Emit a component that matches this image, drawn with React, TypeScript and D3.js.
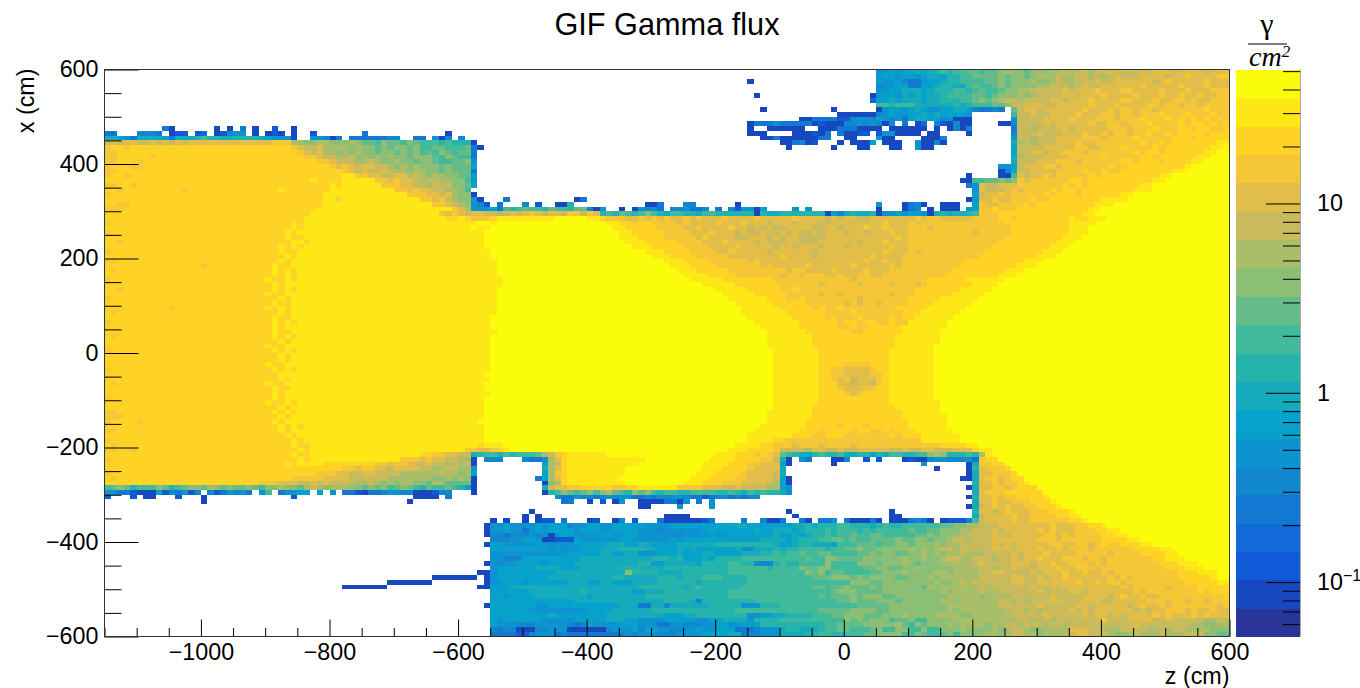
import React, { useEffect, useRef } from 'react';
import * as d3 from 'd3';

// kBird palette, 20 contours, bottom of the colour bar first
const palette = [
  '#2a3598', '#1848c0', '#105ad8', '#1269d8', '#1278d2', '#1188ce', '#0d93d0', '#07a2cb', '#15abbc', '#26b3ac',
  '#41b99b', '#66bc88', '#8bbf75', '#aabd69', '#c9bb5c', '#e1bd4a', '#f5c636', '#ffd326', '#fee717', '#fbfc0c',
];
const levelCodes = 'abcdefghijklmnopqrst';
const zRange = [-1150, 600];
const xRange = [-600, 600];
const zBins = 175;
const zTicks = [-1000, -800, -600, -400, -200, 0, 200, 400, 600];
const xTicks = [-600, -400, -200, 0, 200, 400, 600];
const fluxRange = [0.0516, 51];
const fluxLabels = [{ v: 10, base: '10', exp: '' }, { v: 1, base: '1', exp: '' }, { v: 0.1, base: '10', exp: '\u22121' }];
const fluxMinor = [0.06, 0.07, 0.08, 0.09, 0.2, 0.3, 0.4, 0.5, 0.6, 0.7, 0.8, 0.9, 2, 3, 4, 5, 6, 7, 8, 9, 20, 30, 40, 50];

// one string per x bin, top row first. "col:levels", last level runs on to the next token
const fluxRows = [
  '120:gghghhih 128:ijkjkkll 136:kllmnmmlmnm 147:nnonoonoopoo 160:opopppoppppopp',
  '120:ghhghhgh 128:iihjjkkl 136:lllmlmmlmnn 147:nonnoononopo 160:oppppoppqppppq',
  '100:b. 120:hgghfeeg 128:hhijjkkk 136:kllmlmmmnmm 147:nonnooopoopp 160:pppopqpppppqpp',
  '120:fgghheeh 128:hijjiikl 136:kklmlmmmmnn 147:ooonopoopppp 160:pqpppppqpppqpp',
  '120:gghhiiih 128:ijjjkkjk 136:lkklmmnnooo 147:oopopppqpppq 160:ppppqpppqpppqq',
  '101:b. 119:bghhgihih 128:iijkkkkl 136:lklmmmnmnoo 147:ooppopppqppp 160:qpppqppqppqppq',
  '119:dhhihiiih 128:iijjjkkl 136:mlmnoonoooo 147:ppopppqppppq 160:pppqppqqpqppqq',
  '120:kkjkkkii 128:iiiijijk 136:kkllmoooppo 147:opppppqpppqp 160:ppqqpqqpqqpqqq',
  '102:b. 113:b. 120:bghhghihgghhiih 135:feefe 140:. 141:l 142:oppopppp 150:ppqpppqp 158:qqpqqpqq 166:qqqqqrqqq',
  '114:bbbbbb 120:fghgghhihihhhhg 135:. 141:k 142:oopooppp 150:pqpppqqp 158:qqpqqqrq 166:qqrqqqrqq',
  '108:bbeeeeccfgg 119:fhgfgehiihhfgbb 134:b 135:. 141:g 142:oooopppp 150:qpppqqqp 158:qqqrqqqr 166:qrqrqrqrq',
  '100:beeegeeeeebcbbbf 116:fgfgfb 122:f. 124:e. 126:bc. 127:d 128:. 129:f 130:cb 132:fb 134:b 135:. 139:bb 141:f 142:oooopo 148:pppppq 154:ppqqpq 160:qqrqqq 166:qrqrrqrqr',
  '9:eb. 17:b. 19:b. 21:e. 23:b. 26:c. 29:b. 100:b. 103:bbbbb 108:b. 111:bbbeeebbb 120:b. 122:bbbbbb 128:. 129:b 130:. 131:b 132:fb 134:f. 141:e 142:oonooo 148:ppoppp 154:ppqqqp 160:qqqrqq 166:qrrqrrqqr',
  '0:ee. 5:fffe. 10:bcc. 14:cd. 17:bcfgg. 23:b. 25:bcb. 29:b. 32:c. 40:e. 53:b. 100:bbb. 107:bbbcbe 113:. 114:ebbcc 119:. 120:c 121:gg 123:bbbb 127:. 128:bb 130:. 134:b. 141:f 142:ooopoo 148:opppqp 154:pqpqqp 160:qqrqqr 166:qrrrrqrrr',
  '0:iihgeiiiiheiiijkjjiijjjjihgggb 30:. 32:ggfbe. 38:eeeeeeff. 48:ee. 51:gbf. 55:f. 102:bbeb 106:bb. 108:bbbee 113:. 115:bb 117:. 119:. 120:g 121:bb 123:. 126:. 127:bb. 129:bf. 141:g 142:oonooo 148:ppppqq 154:qpqqqq 160:rqqqqq 166:rrrqrrrrr',
  '0:opoppoopopopopppppppppppppqqq 29:nnmmnnmmmnml 41:lkmllkmlkkkjkjjjk 57:b. 105:bbef 109:bc 111:. 114:b. 116:bb 118:bh 120:. 121:bbb 124:. 126:gbb 129:fb. 141:i 142:nonooo 148:pppqpp 154:qqqqqq 160:qrqqrq 166:rrrrrrrss',
  '0:qrrq 4:r 29:qpoopnnn 37:nmnmmlmlmmlmkkllkkkl 57:e 58:b. 106:b. 113:b. 117:bb. 122:bb. 126:gbb. 141:h 142:oooopp 148:pppqqp 154:pqqqrq 160:qqqrqr 166:rrrrrrsst',
  '0:qqrr 4:r 30:qpopnn 36:mnmnmmlmmlmlmklkmlkll 57:e. 141:h 142:ooppop 148:pqqqpq 154:qqqqqq 160:rqrrqr 166:rrrrrsstt',
  '0:qqrrrrrq 8:r 31:qqpoon 37:nomnmnmnmmlmmmlkmlkk 57:e. 141:i 142:nooopp 148:ppqqqq 154:qrqqqq 160:qrrqrr 166:rrrrsstt',
  '0:qqr 5:q 6:r 33:qqpooo 39:nnonmmnmmlmmlkkllm 57:g. 141:i 142:oooppp 148:qqqpqq 154:qqqqrr 160:qrrrqr 166:rrrsstt',
  '0:qrrrqq 6:r 35:qpqpopp 42:oonmnmnmmmlmlll 57:h. 139:g 140:gh 142:opppqq 148:pqqqqq 154:qqrqqr 160:rrrrrr 166:rrsttt',
  '0:qq 2:r 37:qpopoop 44:onnmnnmmlmlll 57:e. 139:bf 141:i 142:oopppp 148:qqqqrq 154:qrqqrr 160:rrrrrr 166:ssttt',
  '0:qrrq 4:r 37:ss 39:qqppoopp 47:nonmnnmmll 57:h. 134:b 135:. 139:bb 141:k 142:poppqp 148:qqqqqr 154:qrrrrr 160:rrrrss 166:ttttt',
  '0:r 32:s 33:r 37:sssss 42:qqpqppo 49:noonnmmk 57:g. 133:bb 135:kkllm 140:lm 142:qpqqqq 148:qqrrqr 154:rrrrrr 160:rrrss 165:t',
  '0:qqr 4:q 5:r 35:s 36:r 37:ssssss 43:qqqppoo 50:nooomml 57:h. 134:eg 136:poopp 141:pqqqqq 147:qqrqrq 153:rrrrrr 159:rrsst 164:t',
  '0:rrq 3:r 12:q 13:r 27:s 28:r 35:ss 37:ssssssss 45:qqpqpp 51:oonnmk 57:. 135:g 136:pooop 141:qpqqqq 147:rqrrqr 153:rrrrrr 159:rss 163:t',
  '0:qr 34:sssssssssssss 47:qqqpp 52:opnmm 57:b. 135:h 136:oppqp 141:qqqqqr 147:qrrrqr 153:rrrrrs 158:sst',
  '0:r 34:ssrssssssssssss 49:qqpqo 54:nmm 57:g 58:b. 62:e. 73:be. 134:bg 136:ppqpp 141:qqqrqq 147:rrrrrr 153:rrss 157:sst',
  '0:rrqq 4:r 33:rssssssssssssssss 51:qqpo 55:nm 57:gfc. 61:e. 65:f. 67:c. 70:bbj. 84:bbe. 90:ff. 98:b. 120:g. 124:bef 127:b. 130:bbb. 135:h 136:qppq 141:qqrqrr 147:rrrrrr 153:rss 156:st',
  '0:qq 3:r 33:s 54:qpn 57:ggghe 62:kjklkkjlkkjll 75:fbg. 80:b. 82:bgfge. 88:ffgeef. 95:e. 97:fcggbh. 107:g. 109:g. 120:b. 124:bef. 128:b. 130:bbb. 134:gh 136:qqrq 141:qrrrrr 147:rrrrrr 153:ss 155:t',
  '0:r 32:s 52:qpqpo 57:ppoonopopqpoppoqqoqpq 77:jkjlkjkmkjikkjjikkjjjjjj 101:b 102:jiijjjjjjj 112:b 113:hfijiij 120:bgghghhgb 129:ijijijk 136:qqqr 141:rrrrrr 147:rrrrr 152:sst',
  '0:r 31:s 53:rrsrqq 59:qrs 62:sssssss 70:tttttt 75:ss 77:r 78:qq 80:qppqpqpqppqpqpp 95:pqppppqpppppqp 109:pppopoppoopppp 123:pppqpqqpppppq 136:qqqrrq 142:rrrrr 147:rrrsrr 153:ssst 156:t',
  '0:qr 28:rsr 31:s 57:st 60:st 62:t 78:ss 80:rrqrr 85:qqqq 89:pqppppqpppqpppopppopppoopppoppppqpp 125:qpqqqqqqqqqqqqq 140:rrrrrrrrrr 150:sss 154:t',
  '0:r 29:srs 32:s 56:sts 60:t 79:ss 81:rrrrr 86:qqqq 90:ppqppppqppopopooppppooppopppqppqppp 125:qqqpqqqqqqqqqqqq 141:rrrrrrrrr 150:sss 153:t',
  '0:qr 27:rsrs 31:s 58:st 60:t 80:ss 82:rrrrr 87:qqqq 91:pppqpppopoopoopopoopopppoppopppqpp 125:qqqqqqqqqqpqqqqq 141:rrrrrrrrr 150:sss 153:t',
  '0:r 28:srrs 32:s 59:t 80:sss 83:rrrr 87:qqqqq 92:pqppppoopppopoppoooopppppppppppqp 125:qqqqqqqqqqqqqqq 140:rrrrrrrrr 149:sss 152:t',
  '0:rrq 3:r 27:rrss 31:rs 33:s 59:t 81:sss 84:rrrrr 89:qqqq 93:pppqppppopoooppoooppppppopppqppp 125:qqqqqqqqqqqqqq 139:rrrrrrrrr 148:sss 151:t',
  '0:r 27:srsr 31:s 58:st 60:t 82:sss 85:rrrrr 90:qqqq 94:ppppqpppppoppopppopppoppppppqpp 125:qqqqqqqqqqqqq 138:rrrrrrrrr 147:sss 150:t',
  '0:qr 26:rsrrs 31:s 59:st 61:t 84:sss 87:rrrr 91:qqqq 95:ppqpppppoppppppoppppppppppqpp 125:qpqqqqqqqqqq 137:rrrrrrrrr 146:sss 149:t',
  '0:r 27:rsrs 31:s 60:t 85:sss 88:rrrr 92:qqqq 96:qppppppppqppppoppppppppqpppp 124:qqqqqqqqqqqq 136:rrrrrrrrr 145:sss 148:t',
  '0:qqr 3:r 25:rrsr 29:s 60:st 62:t 87:sss 90:rrrr 94:qqqq 98:qqpqppppppppppppppppqppqpp 124:qqqqqqqqqq 134:rrrrrrrrr 143:sss 146:t',
  '0:r 15:q 16:r 26:srrs 30:s 61:t 88:sss 91:rrrr 95:qqqq 99:qqqpqpppppqppppppqpppppqp 124:qqqqqqqqq 133:rrrrrrrrr 142:sss 145:t',
  '0:rq 2:r 25:rsrsr 30:s 60:st 62:t 89:sss 92:rrrrr 97:qqqq 101:qqqqqpqqppppqppppqpppqpp 123:qqqqqqqqq 132:rrrrrrrr 140:sss 143:t',
  '0:r 26:srsr 30:s 61:t 90:ssss 94:rrrr 98:qqqqq 103:qqpqqpqqqppqppqqppqq 123:qqqqqqqq 131:rrrrrrrr 139:sss 142:t',
  '0:qr 24:rsrrs 29:rs 31:s 61:st 63:t 91:sssss 96:rrrrrrrr 104:qqqqqqqqqqqqpqqqqqqqqqqq 128:rrrrrr 134:ssssss 140:t',
  '0:r 25:rsrs 29:s 62:t 93:sssss 98:rrrrrrr 105:qqqqqqpqqqqqpqqqqpqqqpq 127:qrrrrrrr 135:ssss 139:t',
  '0:rrq 3:r 26:srsr 30:s 60:st 63:t 95:sssss 100:rrrrr 105:qqrqqqqqqqqqqqqqqqqqqqq 126:rrrrrrr 133:sssss 138:t',
  '0:r 24:rsrrs 29:s 61:t 96:sssss 101:rrrr 105:rqqqqqpqqpqqqqqqqpqqqq 126:rrrrrr 132:sssss 137:t',
  '0:qr 25:rrsr 29:s 60:st 62:t 97:ssssss 103:rrr 106:qqrqqqqqqqqpqqqqqqq 125:rrrrr 130:ssssss 136:t',
  '0:r 26:srr 29:s 61:t 98:ssssss 104:rrr 107:rrqqqqqqpqpqqpqqqq 125:rrrr 129:ssssss 135:t',
  '0:r 10:q 11:r 24:rsrs 28:rs 30:s 61:t 99:ssssss 105:rrr 108:rrqrqqrqqqqqqqqrqq 124:rrrr 128:ssssss 134:t',
  '0:rq 2:r 26:rsr 29:s 60:st 62:t 99:sssssss 106:rrr 109:rrrqqqqrqqqqqqqrq 124:rrr 127:ssssss 133:t',
  '0:r 25:rsrrs 30:s 60:t 100:sssssss 107:rrr 110:rrqrqqqrqqqqrqqq 124:rr 126:ssssss 132:t',
  '0:qr 26:srsr 30:s 60:t 101:sssssss 108:rrr 111:rrrqrrqrrqqrqq 125:ssssss 131:t',
  '0:r 24:rrsr 28:s 60:t 102:ssssss 108:rrrrr 113:rqqrqqr 120:rrrr 124:sssssss 131:t',
  '0:r 26:srr 29:s 61:t 103:ssssss 109:r 113:rrrqqrr 124:ssssss 130:t',
  '0:rq 2:r 25:rsrsr 30:s 60:t 103:sssssss 110:r 123:sssssss 130:t',
  '0:r 26:rsrs 30:s 59:st 61:t 103:sssssss 110:r 123:sssssss 130:t',
  '0:r 24:rsrr 28:s 60:t 103:sssssss 110:r 123:ssssss 129:t',
  '0:qr 26:srs 29:rs 31:s 60:t 104:sssssss 111:r 122:sssssss 129:t',
  '0:r 25:rrsr 29:s 59:st 61:t 104:sssssss 111:r 122:sssssss 129:t',
  '0:r 26:rsr 29:s 60:t 104:sssssss 111:r 122:sssssss 129:t',
  '0:r 24:rsrrs 29:s 60:t 104:sssssss 111:rrrr 115:qqqq 119:rrr 122:sssssss 129:t',
  '0:qr 26:srsr 30:s 59:st 61:t 104:sssssss 111:rr 113:qqpppp 119:qrr 122:sssssss 129:t',
  '0:r 25:rrs 28:s 59:t 104:sssssss 111:rr 113:qqpppp 119:qqr 122:sssssss 129:t',
  '0:r 26:rsrs 30:s 60:t 104:sssssss 111:rr 113:qpqopppq 121:r 122:sssssss 129:t',
  '0:rq 2:r 24:rsr 27:rs 29:s 58:st 60:t 104:sssssss 111:rrr 114:ppoppoq 121:r 122:sssssss 129:t',
  '0:r 26:srrs 30:s 59:t 104:sssssss 111:rrr 114:qpppqq 120:rr 122:sssssss 129:t',
  '0:r 25:rsr 28:s 59:st 61:t 104:sssssss 111:rrrr 115:qpq 118:rrrr 122:sssssss 129:t',
  '0:qr 26:srs 29:s 59:t 104:sssssss 111:r 122:sssssss 129:t',
  '0:r 24:rsrrs 29:rs 31:s 59:t 104:sssssss 111:r 122:sssssss 130:t',
  '0:r 26:rsr 29:s 58:st 60:t 104:ssssss 110:r 123:sssssss 130:t',
  '0:qqr 26:srsr 30:s 59:t 103:sssssss 110:r 124:ssssss 130:t',
  '0:qqqr 25:rrs 28:rs 30:s 59:t 103:sssssss 110:r 124:sssssss 131:t',
  '0:qr 5:q 6:r 26:srs 29:s 58:t 103:ssssss 109:r 125:ssssss 131:t',
  '0:r 27:srsr 31:s 59:t 102:sssssss 109:rrrrr 114:qrrr 118:qrr 125:ssssss 131:t',
  '0:qqr 26:rsrs 30:s 59:t 101:sssssss 108:rrr 111:qrrrrqrrqqrqrrr 126:ssssss 132:t',
  '0:r 28:srs 31:s 58:st 60:t 100:sssssss 107:rrrqqrrrqqqqqqqrqrrr 127:ssssss 133:t',
  '0:qr 28:rsrs 32:s 59:t 100:ssss 104:rrqqqqqqqqqqqqqqqqqqqqqqrrr 127:ssssss 133:t',
  '0:rq 2:r 29:srr 32:s 58:rssst 62:t 98:ssss 102:rrqqqpqqqpqqqqpqqqqqqqqqqqqq 130:rrrr 134:sst',
  '0:qqr 4:q 5:r 29:rsrs 33:s 56:qqppq 61:rs 63:t 97:sss 100:rrrr 104:qoooonppoopoopppppoopooppooop 135:rs 137:st',
  '0:r 29:srrs 33:s 49:rrqqppoon 57:ijkkjkjkkkl 68:noqrs 73:ssssst 78:t 95:sss 98:rrrq 102:rq 104:pn 105:lkjiijkjjkiijjhjikkjjkkmnmjjjkjn 137:ss 138:t',
  '0:qr 30:srs 33:s 46:qqqpqppoonnm 57:b. 59:fff. 65:fee 68:g 69:nprsss 74:ss 84:t 94:ssss 98:rrrr 102:qqo 105:i 106:b 107:.g. 109:e. 113:bb. 115:f. 118:c. 120:c. 124:bc 126:bb 128:fg 130:gfffge 136:qrr 139:t',
  '0:r 28:srs 31:s 34:r 42:qqpqqpoopoononoon 57:b. 68:h 69:norsss 74:s 83:t 93:ssss 97:rrr 100:qqppp 105:h 106:b. 113:b. 127:g. 134:b 135:i 136:qqr 139:r 140:t',
  '0:r 34:rr 37:qqpqqppoppppoonnoonnnm 57:g. 68:i 69:nprs 74:s 81:t 93:sss 96:rrrr 100:qppp 105:i. 129:b. 134:b 135:j 136:pqqqr 141:t',
  '0:qr 33:qqqppooppoooonnnnnnonnmnl 57:h. 68:h 69:nqrs 74:s 81:t 92:sss 95:rrrr 99:qpppp 104:o 105:i. 134:b 135:i 136:ppqqqr 142:t',
  '0:rq 2:r 29:qqqqqppppoooooonnnnnnnmmnmnml 57:b. 67:eh 69:nprs 74:s 80:t 91:sss 94:rrrr 98:qqpppp 104:o 105:h 106:b. 133:bb 135:i 136:pqqpqrr 143:t',
  '0:r 24:qqqpppoopopoooonnonmnmnnmmlnnll 57:b. 68:b 69:mnrs 74:s 81:t 90:sss 93:rrr 96:qqqpppp 103:on 105:h 106:b. 135:j 136:ppqpqqr 143:s 144:t',
  '0:klmljkkkmljklmmlnmlmllmlkmmnmmlnonmnnnmmlmlmklmlkjlkklkjh 57:b 58:. 68:i 69:oppqqrrrrrqqrrs 84:sssss 89:qqqqpppoopoooonn 105:h 106:g. 134:b 135:i 136:ppqqpqr 145:t',
  '0:ggeecbbbhcfegcf. 16:fcegfge. 24:gk. 27:egghh 32:. 33:h. 35:g. 37:eecbeefggffbbb. 49:bb 51:cff 54:. 57:b. 68:b 69:jkmlklmkmnlkjmlmkjkkjjkk 93:kkjjkjik 101:jk 103:j 105:i 106:g. 135:i 136:pqqqr 146:t',
  '0:c. 4:c. 6:bb. 11:c. 15:b. 29:c. 48:bbbb. 53:e. 70:feegffefgfggeefegfggfeecef 96:gefef 101:g 102:. 107:. 134:b 135:j 136:ppqpqqr 146:st 148:t',
  '15:b. 47:b. 71:ee. 75:b. 77:c. 79:bg. 83:bbbbee 89:bg. 92:e. 94:g. 135:i 136:ppqppqqqr 147:st 149:t',
  '83:bb. 89:g. 94:g. 134:b 135:i 136:opqpqppqqrr 147:rst 150:t',
  '66:b. 106:b. 122:b 123:. 135:j 136:ppopqpppqqqr 148:rrs 151:t',
  '65:b. 67:b. 87:bbbb. 107:b. 122:bb. 135:i 136:oppppqppqqq 147:qrrs 152:t',
  '60:b. 62:b. 65:b. 67:bcc. 71:e. 75:bc. 79:bf. 82:c. 86:eb 88:bb. 90:bbbce. 99:e. 102:fbbe. 108:eb. 111:eeg. 115:ebb. 118:beb. 122:bbb 125:efe 128:b 129:. 130:bcccfff 135:k 136:oppppqppqq 148:qqrrs 153:t',
  '59:b 60:gghgggghghhhfgg 75:hhgghhhhhgggghh 90:hhhhhhhhiihhhhh 105:hhiijijjjkkjjji 120:jkjjkkkkkkllmmn 135:noooppppppppqpp 150:pqqrrst 157:t',
  '59:b 60:gghggeghghhhhgh 75:hhgghhhhgggfggg 90:ggghhhhhhhhihhi 105:iihijjjkjkkkjkj 120:kkkkklkkllmmmnn 135:ooopopppppqpqpp 150:pqqqrrs 157:st',
  '59:b 60:ffefffgfgbghhgg 75:gghhgghhgggggff 90:gggghgghhhhhhhi 105:hhihijjkjkklkkl 120:lkkkkkllmlmmnno 135:ooopoopppppqqpq 150:pqqqqrrsst 160:t',
  '60:fffgghhgbbccchg 75:ggggghhgggggghg 90:hhhhhhhhhhhhiii 105:ihijjjkkllklkkl 120:lllmllmmlmmnoon 135:ooopppppppqqqpq 150:qqqqqrrrrsst 162:t',
  '59:b 60:hhggggghggggghh 75:hhhiiihhiihhhhi 90:iiiiijjjjjjjjji 105:hhijjiiihkkklll 120:kllmmlmmmnmnnoo 135:ooopopopppppqqp 150:pqqpqrqqrrrss 163:t',
  '60:hhhhhhhhhghgggh 75:hhiiijjjjiihhhi 90:hihhhhhhiggiiij 105:ijjkkkkjkkllmll 120:mmmmmnmnmnoonoo 135:ooopppopppqppqp 150:qqqpqqqqqqrrrrs 165:s 166:t',
  '60:gggggggggggghhh 75:hhiihhiiggghhhi 90:hhhiihhhhiiijjk 105:jkklkkllkkkkllm 120:lmmllmmnmnmnnon 135:nnoooopopppqppp 150:pqqqqqpqqqqrrrrs 166:st',
  '60:ggfffhhhhhhhhhi 75:iiiiiiiiiijjjij 90:hhhihjjjjkkkkkk 105:kkkklkkmmllllmm 120:mmmmnmmnmmnoonn 135:ooonoopoppqpppq 150:qqpqqpqqqqqqqrrs 166:s 167:st',
  '59:b 60:gfgghhhhghhhhii 75:iiiiiiiijjhhiii 90:iihjjjjkkjjfffj 105:kjjkkkkmkkkkmmm 120:lmmmnmlmmmnnnnn 135:opoooopppoppqpp 150:qqqpqpqqqqqqqqrrrs 168:sst',
  '60:ghhhhhhiiiihhhi 75:iiiiijjjjijijjj 90:jjjjjjjkkkkkkjk 105:kkkmllmmkkkkkll 120:mmllmmnmmmmmnnn 135:noonoopooopppqp 150:pqqqpqqqqqqqqqqrrr 168:ss 171:t',
  '58:bb 60:ghhhhhhhhhiiiii 76:iiiiimjjjjiiiij 91:jjjjjjkkkkkkkkk 106:kkkmlmkllkkkkll 121:mmmnmmmmnnmnnnn 136:ooppoooopopppqp 151:pqppqpqqqqqqqqqqrrr 170:sss 173:t',
  '51:bbbbbbb 58:. 59:b 60:ghhhhhhhhiiiiii 75:iiiijjiiiiijjji 90:jjjkkkjjjjkkkkk 105:kkkkklllmmmlmlm 120:mmmllmmmnmnnnnn 135:noooooppoopoppq 150:ppppppqpqpqqqqqqqrr 169:rrrs 173:t',
  '44:bbbbbbb 51:. 59:b 60:gghhhghhhhhhiii 75:hhiihhhiiiijjjj 90:jjijjjjjjjkkkkk 105:kkkkkkkkkkkmmml 120:lmmmmmmmmnmmnon 135:ooooooppooppppp 150:pqppqpqqpqqqqqqqq 167:qrrrrrss',
  '37:bbbbbbb 44:. 58:bb 60:hhhiiiiiiiiiiii 75:iiiiiiiijjjjjjj 90:ijkjjjjjjkkkkkk 105:kkkkkllkllmlllm 120:lmmmmmmlnmnnnnn 135:nonoooooopoopop 150:ppppppppqpqqqqqpq 167:qqqrrrrrs',
  '60:hhhhhhiiiiiiiij 75:iiiiiiihhiiijjj 90:jjjjjjjkkkkkkkk 105:kkkkkkkklmmmlll 120:lmmmmmmmmmnmnnn 135:nonnoooooopoooo 150:ppopppppppqpqqqqq 167:qqqrqrrrr',
  '60:hhghhhhiiiiiiii 75:hiiiiiiiijjjjjj 90:jjjjjjjkkkkkkkk 105:kkkkkklklllmlmm 120:mllmmmmmmmmnnnn 135:nmnnnnoooooopoo 150:ooppppopqppqppqq 166:qqqqqqqqr',
  '60:hhhhhhhhhhhhhii 75:iiiiiiiiiiiijjj 90:jifjjjjjjjjkkkk 105:kkkkkkkkkllmlll 120:mmmlmmmmmmnnmnn 135:nnnnoononoooppo 150:oopppoopppppqqqp 166:qqpqqpqqq',
  '59:b 60:hhhhhhhgghhhhhh 75:hhhhhiiieeiifii 90:iiiijjjjjgggjjj 105:kkkkkkkkkkkklll 120:llmmmmmmmmmnnnn 135:nnnnoooooopoooo 150:oppopppppopqppqp 166:qqqqqqqpq',
  '60:hhhhhhggggggggg 75:hhhhiiiiiijjjjj 90:jjjjjjjjkkkkkkk 105:kkkkkklllllmmmm 120:llmmmmmmmmmnmnn 135:nnnnnooononoooo 150:popoppppppopoppq 166:qqpqppqpp',
  '60:hhhhhhhhhihhhhh 75:hhhiiiiiiiiihhh 90:iijjjjjjjjgghhi 105:ijjjjkkkllmmmll 120:lmmmnmmmmnnnnmm 135:nnnnnnooooopooo 150:oopoppopoppppqpq 166:pppqpqppp',
  '60:hghhhhhhggggghh 75:hhhiiihhgggghhh 90:hhgghhiiiigjjjj 105:kkkkkkkkkkmlmlm 120:mmkllmkkmmmmnnn 135:nnnnnnnoonnonoo 150:oooooqoooppppoop 166:ooooonnoo',
  '60:hgggfffgggggfef 75:hgggghhhgggeegg 90:fffgghhgghhhjjj 105:jjjjjjjkkllllmm 120:mmmnlkmlmmmnmnn 135:nnmnnoonooonoon 150:oooooooooopooooo 166:ooonnmmnn',
  '60:feffbbbffgggbbb 75:bbbfggghfhhggff 90:gghgghhheeefggg 105:ijjiiijkkllkkkl 120:mkkmmkkmkkmmmnm 135:mmmnmnoonmmnnnn 150:pppoonnnoooonnon 166:oonnnnmmm',
  '60:eeeeccfgggefeee 75:eeeeefgfgggfffg 90:ggghhhhiieffggg 105:iiiijjkkjjkkkll 120:mmmmkkmlkklmkmm 135:mmnnmnoonnmnnnn 150:oppooonmmnonnnon 166:nnooommll',
].map(parseRow);

function parseRow(row: string): number[] {
  const cells = new Array(zBins).fill(-1);
  const tokens = row.split(' ').map(t => t.split(':'));
  tokens.forEach(([start, levels], t) => {
    const from = +start;
    const next = t + 1 < tokens.length ? +tokens[t + 1][0] : zBins;
    const fill = levelCodes.indexOf(levels[levels.length - 1]);
    for (let c = from; c < Math.max(next, from + levels.length) && c < zBins; c++) {
      cells[c] = c - from < levels.length ? levelCodes.indexOf(levels[c - from]) : fill;
    }
  });
  return cells;
}

const App = () => {
  const ref = useRef<SVGSVGElement>(null);

  const left = 104.5, right = 1229.5, top = 69.5, bottom = 636.5;
  const barLeft = 1236, barRight = 1300;

  useEffect(() => {
    const svg = d3.select(ref.current);
    svg.selectAll('*').remove();

    const zScale = d3.scaleLinear().domain(zRange).range([left, right]);
    const xScale = d3.scaleLinear().domain(xRange).range([bottom, top]);
    const zBin = (zRange[1] - zRange[0]) / zBins;
    const xBin = (xRange[1] - xRange[0]) / fluxRows.length;

    const cells = svg.append('g').attr('shape-rendering', 'crispEdges');
    fluxRows.forEach((row, r) => {
      row.forEach((level, c) => {
        if (level < 0) return;
        const z0 = zRange[0] + c * zBin;
        const x1 = xRange[1] - r * xBin;
        cells.append('rect')
          .attr('x', zScale(z0))
          .attr('y', xScale(x1))
          .attr('width', zScale(z0 + zBin) - zScale(z0))
          .attr('height', xScale(x1 - xBin) - xScale(x1))
          .attr('fill', palette[level]);
      });
    });

    // frame and axes
    const font = '"Liberation Sans", Arial, sans-serif';
    const labelSize = 23.3;
    const zMinor = d3.range(-1150, 601, 50).filter(v => !zTicks.includes(v));
    const xMinor = d3.range(-600, 601, 50).filter(v => !xTicks.includes(v));

    const zAxis = svg.append('g').attr('transform', `translate(0,${bottom})`)
      .call(d3.axisBottom(zScale).tickValues(zTicks).tickSize(-17).tickPadding(19).tickFormat(d => String(d).replace('-', '\u2212')));
    zAxis.append('g').call(d3.axisBottom(zScale).tickValues(zMinor).tickSize(-8.5).tickFormat(() => ''));
    const xAxis = svg.append('g').attr('transform', `translate(${left},0)`)
      .call(d3.axisLeft(xScale).tickValues(xTicks).tickSize(-34).tickPadding(6).tickFormat(d => String(d).replace('-', '\u2212')));
    xAxis.append('g').call(d3.axisLeft(xScale).tickValues(xMinor).tickSize(-17).tickFormat(() => ''));
    svg.selectAll('.domain').remove();
    [zAxis, xAxis].forEach(a => a.selectAll('text').attr('font-family', font).attr('font-size', labelSize).attr('fill', '#000'));
    zAxis.selectAll('text').attr('dy', '0.2em');

    svg.append('rect')
      .attr('x', left).attr('y', top)
      .attr('width', right - left).attr('height', bottom - top)
      .attr('fill', 'none').attr('stroke', '#333').attr('stroke-width', 1);

    // colour bar
    const barBands = d3.scaleBand<number>().domain(d3.range(levelCodes.length)).range([bottom, top]);
    svg.append('g').attr('shape-rendering', 'crispEdges').selectAll('rect')
      .data(palette).join('rect')
      .attr('x', barLeft).attr('width', barRight - barLeft)
      .attr('y', (_, i) => barBands(i)!)
      .attr('height', barBands.bandwidth() + 0.5)
      .attr('fill', d => d);

    const fluxScale = d3.scaleLog().domain(fluxRange).range([bottom, top]);
    const barAxis = svg.append('g').attr('transform', `translate(${barRight},0)`);
    barAxis.append('g').call(d3.axisLeft(fluxScale).tickValues(fluxLabels.map(d => d.v)).tickSize(34).tickFormat(() => ''));
    barAxis.append('g').call(d3.axisLeft(fluxScale).tickValues(fluxMinor).tickSize(17).tickFormat(() => ''));
    barAxis.selectAll('.domain').remove();
    svg.append('line').attr('x1', barRight + 0.5).attr('x2', barRight + 0.5).attr('y1', top).attr('y2', bottom).attr('stroke', '#aaa');

    fluxLabels.forEach(d => {
      const t = svg.append('text')
        .attr('x', 1317).attr('y', fluxScale(d.v) + 8)
        .attr('font-family', font).attr('font-size', labelSize).text(d.base);
      if (d.exp) t.append('tspan').attr('dy', -9).attr('font-size', 16).text(d.exp);
    });

    // titles
    svg.append('text').attr('x', 667).attr('y', 35).attr('text-anchor', 'middle')
      .attr('font-family', font).attr('font-size', 30.7).text('GIF Gamma flux');
    svg.append('text').attr('x', right).attr('y', 684).attr('text-anchor', 'end')
      .attr('font-family', font).attr('font-size', labelSize).text('z (cm)');
    svg.append('text').attr('transform', `translate(34,${top - 1}) rotate(-90)`).attr('text-anchor', 'end')
      .attr('font-family', font).attr('font-size', labelSize).text('x (cm)');

    const serif = '"Liberation Serif", "Times New Roman", serif';
    svg.append('text').attr('x', 1267).attr('y', 34).attr('text-anchor', 'middle')
      .attr('font-family', serif).attr('font-size', 30).text('\u03b3');
    svg.append('line').attr('x1', 1248).attr('x2', 1287).attr('y1', 44).attr('y2', 44).attr('stroke', '#000').attr('stroke-width', 1);
    const cm = svg.append('text').attr('x', 1249).attr('y', 66)
      .attr('font-family', serif).attr('font-style', 'italic').attr('font-size', 28).text('cm');
    cm.append('tspan').attr('dy', -9).attr('font-size', 17).text('2');
  }, []);

  return (
    <svg ref={ref} width={1360} height={688} style={{ position: 'absolute', left: 0, top: 0, background: '#fff' }} />
  );
};

export default App;
